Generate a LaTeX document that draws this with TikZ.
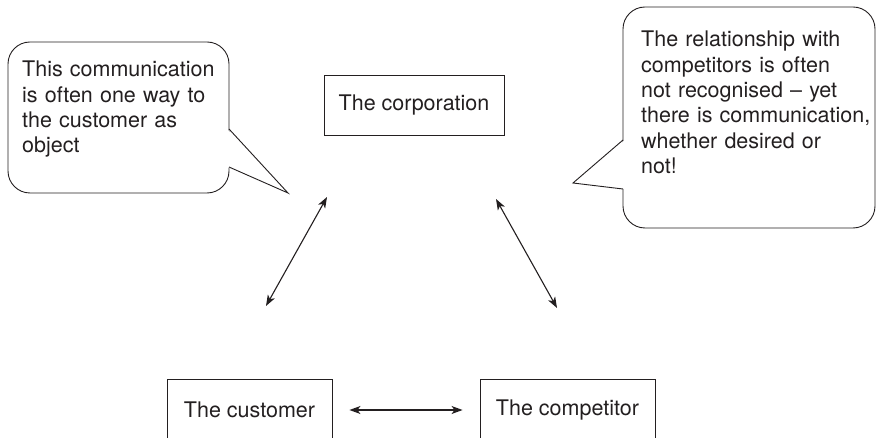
\documentclass[tikz,border=0pt]{standalone}
\usepackage{fontspec}
\setmainfont{TeX Gyre Heros}
\usetikzlibrary{arrows.meta}
\definecolor{ink}{HTML}{231F20}
\newcommand\dgfont{\fontsize{21.5}{25.3}\selectfont}
\begin{document}
\begin{tikzpicture}[x=1pt,y=-1pt,line join=miter,
  box/.style={draw=ink, line width=0.9pt, text=ink, font=\dgfont, inner sep=0pt},
  lbl/.style={text=ink, font=\dgfont, inner sep=0pt, anchor=base west, align=left},
  callout/.style={draw=ink, line width=0.9pt, rounded corners=22pt},
  ptr/.style={draw=ink, line width=0.9pt},
  arr/.style={{Stealth[length=11pt,width=8pt,inset=3pt]}-{Stealth[length=11pt,width=8pt,inset=3pt]}, line width=1.1pt, draw=ink}]
\useasboundingbox (0,0) rectangle (877,438);
\clip (0,0) rectangle (877,438);
% left callout
\draw[callout] (8,42) rectangle (229,193);
\fill[white] (227,129) -- (288,193) -- (227,167) -- cycle;
\draw[ptr] (229,129) -- (288,193) -- (229,167);
\node[lbl, text width=210pt] (lt) at (22,77) {This communication\\is often one way to\\the customer as\\object};
% right callout
\draw[callout] (623,7) rectangle (875,228);
\fill[white] (625,140) -- (573,183) -- (625,189) -- cycle;
\draw[ptr] (623,140) -- (573,183) -- (623,189);
\node[lbl, text width=232pt] (rt) at (641,47) {The relationship with\\competitors is often\\not recognised -- yet\\there is communication,\\whether desired or\\not!};
% boxes
\node[box, minimum width=180pt, minimum height=60pt] (corp) at (414,105) {The corporation};
\node[box, minimum width=165pt, minimum height=62pt] (cust) at (249.5,410) {The customer};
\node[box, minimum width=175pt, minimum height=62pt] (comp) at (567.5,410) {The competitor};
% arrows
\coordinate (a1) at (327,197);
\coordinate (a2) at (266,306);
\coordinate (b1) at (496,199);
\coordinate (b2) at (557,308);
\draw[arr] (a1) -- (a2);
\draw[arr] (b1) -- (b2);
\draw[arr, shorten >=17pt, shorten <=17pt] (cust) -- (comp);
\end{tikzpicture}
\end{document}
